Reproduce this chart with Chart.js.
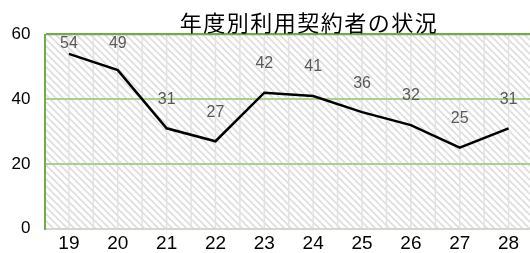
<!DOCTYPE html>
<html>
<head>
<meta charset="utf-8">
<script src="https://cdn.jsdelivr.net/npm/chart.js@4.4.0/dist/chart.umd.min.js"></script>
<style>
html,body{margin:0;padding:0;overflow:hidden;background:#fff;}
#wrap{position:relative;width:533px;height:253px;}
</style>
</head>
<body>
<div id="wrap"><canvas id="c"></canvas></div>
<script>
const titleText = '年度別利用契約者の状況';
const categories = ['19','20','21','22','23','24','25','26','27','28'];
const contractors = [54, 49, 31, 27, 42, 41, 36, 32, 25, 31];
const yTicks = [0, 20, 40, 60];

function makeHatch(ctx){
  const p = document.createElement('canvas');
  p.width = 7; p.height = 7;
  const g = p.getContext('2d');
  g.fillStyle = '#ffffff';
  g.fillRect(0,0,7,7);
  g.strokeStyle = '#dedede';
  g.lineWidth = 1.6;
  g.beginPath();
  g.moveTo(-2,-2); g.lineTo(9,9);
  g.moveTo(-9,-2); g.lineTo(2,9);
  g.moveTo(5,-2); g.lineTo(16,9);
  g.stroke();
  return ctx.createPattern(p,'repeat');
}

const bgPlugin = {
  id:'bg',
  beforeDraw(chart){
    const {ctx, chartArea:a, scales:{x}} = chart;
    ctx.save();
    ctx.fillStyle = makeHatch(ctx);
    ctx.fillRect(a.left, a.top, a.right-a.left, a.bottom-a.top);
    ctx.strokeStyle = '#e2e2e2';
    ctx.lineWidth = 1.5;
    const step = x.getPixelForValue(1) - x.getPixelForValue(0);
    ctx.beginPath();
    for (let i=0;i<categories.length;i++){
      const c = x.getPixelForValue(i);
      ctx.moveTo(c, a.top); ctx.lineTo(c, a.bottom);
      if (i>0){ ctx.moveTo(c-step/2, a.top); ctx.lineTo(c-step/2, a.bottom); }
    }
    ctx.stroke();
    ctx.restore();
  }
};

const labelPlugin = {
  id:'labels',
  afterDatasetsDraw(chart){
    const {ctx, chartArea:a} = chart;
    const meta = chart.getDatasetMeta(0);
    ctx.save();
    ctx.fillStyle = '#595959';
    ctx.font = '16px "Liberation Sans Narrow", "Liberation Sans", sans-serif';
    ctx.textAlign = 'center';
    ctx.textBaseline = 'middle';
    meta.data.forEach((pt,i)=>{
      const y = Math.max(pt.y - 29, a.top + 9.5);
      ctx.fillText(String(contractors[i]), pt.x, y);
    });
    ctx.restore();
  },
  afterDraw(chart){
    const {ctx} = chart;
    ctx.save();
    ctx.fillStyle = '#000';
    ctx.font = '22px "Noto Sans CJK JP", sans-serif';
    ctx.textAlign = 'center';
    ctx.textBaseline = 'alphabetic';
    if ('letterSpacing' in ctx) ctx.letterSpacing = '1.5px';
    ctx.fillText(titleText, 309, 31);
    ctx.restore();
  }
};

new Chart(document.getElementById('c'), {
  type:'line',
  data:{
    labels: categories,
    datasets:[{
      data: contractors,
      borderColor:'#000',
      borderWidth:2.5,
      pointRadius:0,
      tension:0,
      fill:false
    }]
  },
  options:{
    responsive:true,
    maintainAspectRatio:false,
    animation:false,
    devicePixelRatio:1,
    layout:{padding:{top:34.5,left:0,right:0,bottom:0}},
    plugins:{legend:{display:false}, tooltip:{enabled:false}, title:{display:false}},
    scales:{
      x:{
        offset:true,
        grid:{display:false, drawTicks:false},
        border:{display:false},
        ticks:{color:'#000', padding:4, font:{family:'"Liberation Sans Narrow", "Liberation Sans", sans-serif', size:19}},
        afterFit(s){ s.height = 24.4; }
      },
      y:{
        min:0, max:60,
        afterBuildTicks(s){ s.ticks = yTicks.map(v=>({value:v})); },
        grid:{
          drawTicks:false,
          color(c){ const v=c.tick.value; return v===60?'#70ad47':(v===0?'#d3d8cc':'#a9d18e'); },
          lineWidth(c){ const v=c.tick.value; return v===60?2.2:2; }
        },
        border:{display:true, color:'#70ad47', width:2},
        ticks:{color:'#000', padding:14, font:{family:'"Liberation Sans", sans-serif', size:17}},
        afterFit(s){ s.width = 44.5; }
      }
    }
  },
  plugins:[bgPlugin, labelPlugin]
});
</script>
</body>
</html>
